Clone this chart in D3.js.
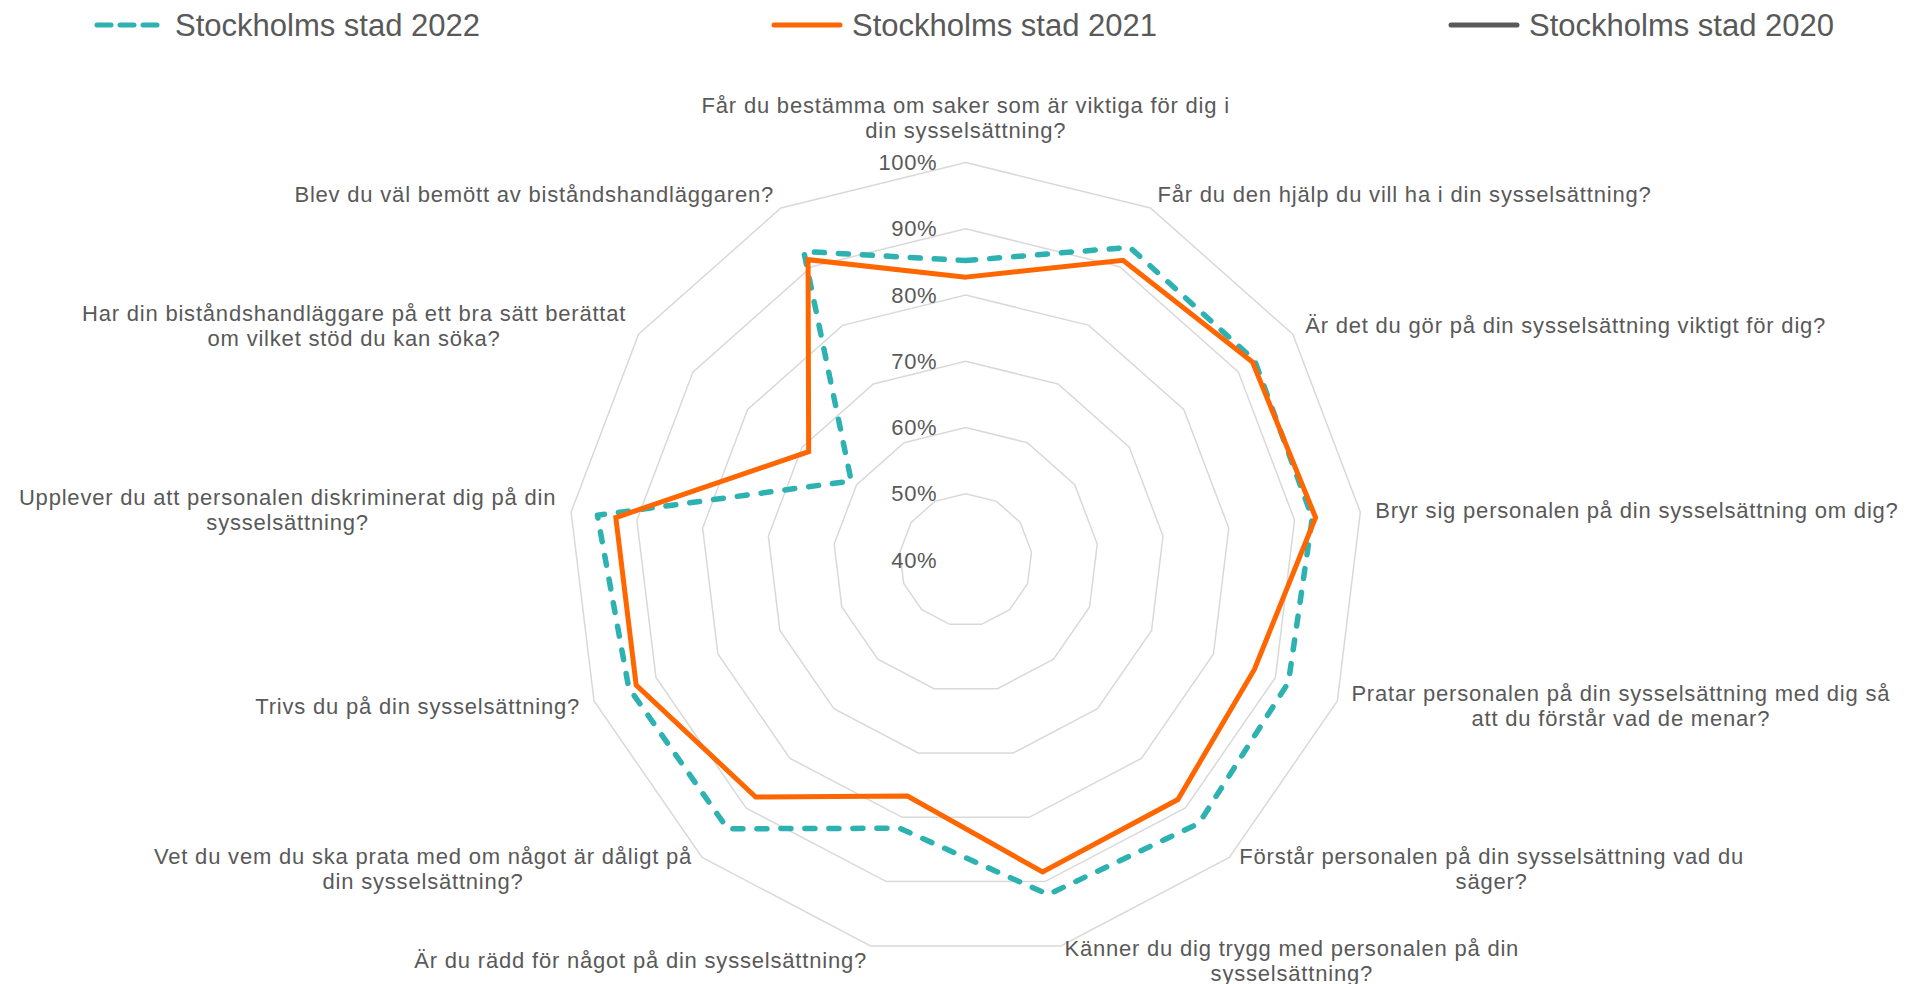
<!DOCTYPE html>
<html>
<head>
<meta charset="utf-8">
<script src="https://cdn.jsdelivr.net/npm/d3@7"></script>
<style>
body{margin:0;background:#fff;}
text{font-family:"Liberation Sans",Arial,sans-serif;fill:#595959;}
</style>
</head>
<body>
<div id="vis"></div>
<script>
// questions, one per spoke, clockwise from the top (already wrapped like the original)
var questions = [
    ["Får du bestämma om saker som är viktiga för dig i","din sysselsättning?"],
    ["Får du den hjälp du vill ha i din sysselsättning?"],
    ["Är det du gör på din sysselsättning viktigt för dig?"],
    ["Bryr sig personalen på din sysselsättning om dig?"],
    ["Pratar personalen på din sysselsättning med dig så","att du förstår vad de menar?"],
    ["Förstår personalen på din sysselsättning vad du","säger?"],
    ["Känner du dig trygg med personalen på din","sysselsättning?"],
    ["Är du rädd för något på din sysselsättning?"],
    ["Vet du vem du ska prata med om något är dåligt på","din sysselsättning?"],
    ["Trivs du på din sysselsättning?"],
    ["Upplever du att personalen diskriminerat dig på din","sysselsättning?"],
    ["Har din biståndshandläggare på ett bra sätt berättat","om vilket stöd du kan söka?"],
    ["Blev du väl bemött av biståndshandläggaren?"]
];

var seriesNames = ["Stockholms stad 2022","Stockholms stad 2021","Stockholms stad 2020"];
var values2022 = [0.852,0.933,0.930,0.927,0.921,0.931,0.920,0.817,0.942,0.944,0.960,0.610,0.926];
var values2021 = [0.827,0.911,0.926,0.932,0.866,0.883,0.885,0.767,0.878,0.932,0.932,0.688,0.912];
var values2020 = []; // no values shown in the chart, only in the legend

var ticks = [0.4,0.5,0.6,0.7,0.8,0.9,1.0];
var tickLabels = ["40%","50%","60%","70%","80%","90%","100%"];

var colors = ["#2EB1B1","#FF6600","#595959"];

// basic structure
var width = 1908, height = 984;
var cx = 965.7, cy = 560;
var svg = d3.select("#vis").append("svg").attr("width",width).attr("height",height);

var r = d3.scaleLinear().domain([0.4,1.0]).range([0,397.5]);
var n = questions.length;
var ang = function(i){ return i*2*Math.PI/n; };

var g = svg.append("g").attr("transform","translate("+cx+","+cy+")");

// grid rings (13-gons)
var ring = d3.lineRadial().angle((d,i) => ang(i)).radius(d => r(d)).curve(d3.curveLinearClosed);
g.selectAll(".ring").data(ticks.slice(1)).enter().append("path")
    .attr("class","ring")
    .attr("d", t => ring(questions.map(() => t)))
    .attr("fill","none")
    .attr("stroke","#d9d9d9")
    .attr("stroke-width",1.5);

// tick labels, left of the top spoke
g.selectAll(".tick").data(ticks).enter().append("text")
    .attr("class","tick")
    .attr("x",-28.5)
    .attr("y", t => -r(t))
    .attr("dy","0.35em")
    .attr("text-anchor","end")
    .attr("style","font-size:22px;letter-spacing:0.6px;")
    .text((t,i) => tickLabels[i]);

// series lines
var radar = d3.lineRadial().angle((d,i) => ang(i)).radius(d => r(d)).curve(d3.curveLinearClosed);
var series = [
    {name:seriesNames[0], values:values2022, color:colors[0], dash:"10,14"},
    {name:seriesNames[1], values:values2021, color:colors[1], dash:null},
    {name:seriesNames[2], values:values2020, color:colors[2], dash:null}
];
g.selectAll(".series").data(series.filter(s => s.values.length)).enter().append("path")
    .attr("class","series")
    .attr("d", s => radar(s.values))
    .attr("fill","none")
    .attr("stroke", s => s.color)
    .attr("stroke-width", s => s.dash ? 5.5 : 5)
    .attr("stroke-linecap","round")
    .attr("stroke-linejoin", s => s.dash ? "round" : "miter")
    .attr("stroke-dasharray", s => s.dash);
// draw 2021 under 2022 like the original? original has orange on top
g.selectAll(".series").filter(s => s.name == seriesNames[1]).raise();

// category labels around the outside
var lineH = 25, gap = 15;
questions.forEach(function(lines,i){
    var a = ang(i);
    var s = Math.sin(a), c = Math.cos(a);
    var px = (r(1.0)+gap)*s;
    var py = -(r(1.0)+gap)*c;
    var t = g.append("text").attr("style","font-size:22px;letter-spacing:0.8px;").attr("text-anchor","middle");
    lines.forEach(function(l,j){
        t.append("tspan").text(l).attr("dy", j==0 ? "0" : lineH);
    });
    // widest line decides the block width
    var w = d3.max(t.selectAll("tspan").nodes(), nd => nd.getComputedTextLength());
    var h = lines.length*lineH;
    var bx;
    if(Math.abs(s) < 0.05){ bx = px; }
    else if(s > 0){ bx = px + w/2; }
    else{ bx = px - w/2; }
    var top;
    if(Math.abs(s) < 0.05 && c > 0){ top = py - 5 - h; }
    else{ top = py - h/2; }
    t.selectAll("tspan").attr("x",bx).attr("y",(d,j) => top + lineH/2 + j*lineH).attr("dy",null)
        .attr("dominant-baseline","central");
});

// legend
var legX = d3.scaleLinear().domain([0,1]).range([97,774]);
var leg = svg.selectAll(".leg").data(series).enter().append("g")
    .attr("class","leg")
    .attr("transform",(d,i) => "translate("+legX(i)+",25)");
leg.append("line")
    .attr("x1",0).attr("x2",66).attr("y1",0).attr("y2",0)
    .attr("stroke", d => d.color)
    .attr("stroke-width",5)
    .attr("stroke-linecap","round")
    .attr("stroke-dasharray", d => d.dash ? "14,9" : null);
leg.append("text")
    .attr("x",78).attr("y",0)
    .attr("dominant-baseline","central")
    .attr("style","font-size:31px;")
    .text(d => d.name);
</script>
</body>
</html>
